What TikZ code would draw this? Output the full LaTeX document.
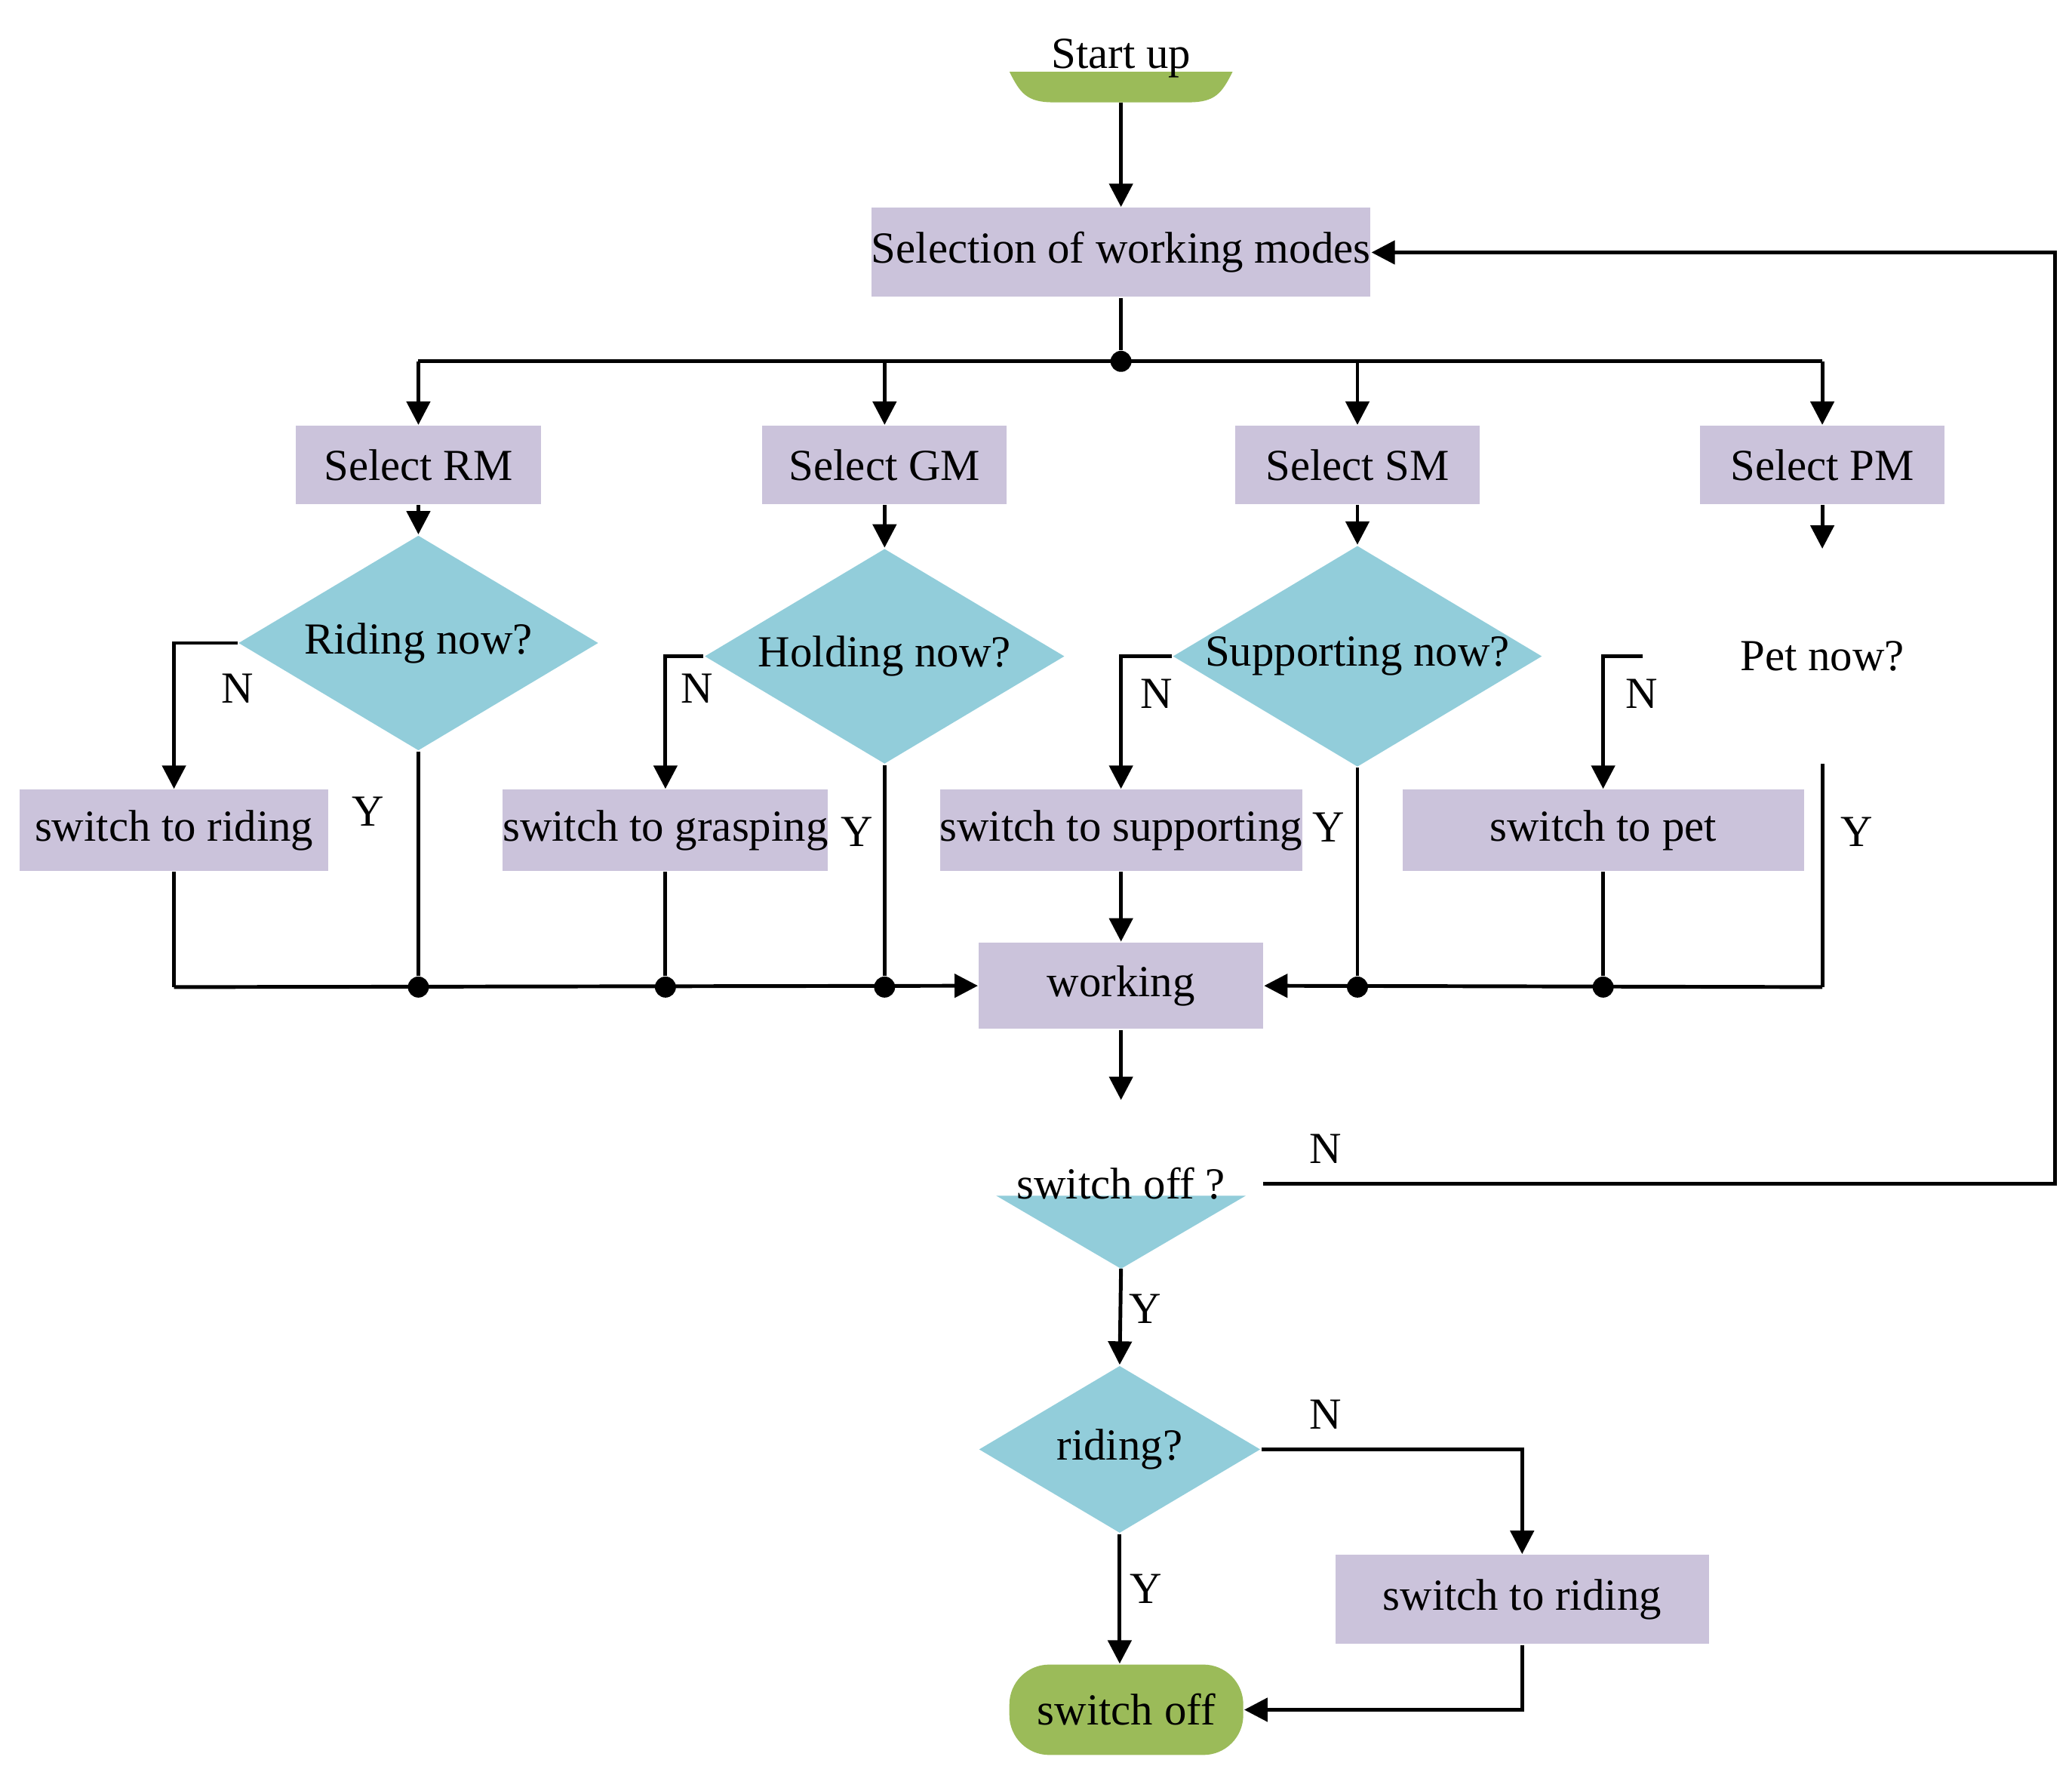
\documentclass[tikz,border=0pt]{standalone}
\usepackage{fontspec}
\setmainfont{Liberation Serif}
\usetikzlibrary{shapes.geometric,arrows.meta}
\definecolor{boxc}{HTML}{CBC3DB}
\definecolor{dia}{HTML}{92CDDA}
\definecolor{grn}{HTML}{9BBB59}
\begin{document}
\begin{tikzpicture}[x=0.01cm,y=-0.01cm,
  every node/.style={font=\fontsize{9.5}{11}\selectfont},
  box/.style={fill=boxc,draw=none,inner sep=0pt},
  dm/.style={diamond,fill=dia,draw=none,inner sep=0pt,aspect=1.67},
  ln/.style={line width=0.8pt},
  ar/.style={ln,-{Triangle[length=5pt,width=5pt]}},
  dot/.style={circle,fill=black,inner sep=0pt,minimum size=4.5pt}]
\useasboundingbox (0,0) rectangle (1560,1329);
% start
\fill[grn] (760,54) -- (928,54) .. controls (920,70) and (915,77) .. (895,77) -- (793,77) .. controls (773,77) and (768,70) .. (760,54) -- cycle;
\node (start) at (844,44) {Start up};
\coordinate (startb) at (844,77);
\node[box,minimum width=364\pgflinewidth*0+3.64cm,minimum height=0.67cm] (sel) at (844,190) {Selection of working modes};
\draw[ar] (startb) -- (sel);
\node[dot] (j) at (844,272) {};
\foreach \n/\x/\t in {rm/315/Select RM,gm/666/Select GM,sm/1022/Select SM,pm/1372/Select PM}{
  \node[box,minimum width=1.84cm,minimum height=0.59cm] (\n) at (\x,350) {\t};
  \coordinate (t\n) at (\x,272);
}
\draw[ln] (sel) -- (j);
\draw[ln] (trm) -- (tpm);
\foreach \n in {rm,gm,sm,pm}{\draw[ar] (t\n) -- (\n);}
% diamonds
\node[dm,minimum width=2.71cm,minimum height=1.62cm] (d1) at (315,484) {Riding now?};
\node[dm,minimum width=2.71cm,minimum height=1.62cm] (d2) at (666,494) {Holding now?};
\node[dm,minimum width=2.71cm,minimum height=1.62cm] (d3) at (1022,494) {Supporting now?};
\node[dm,fill=none,minimum width=2.71cm,minimum height=1.62cm] (d4) at (1372,494) {Pet now?};
\coordinate (d4w) at (1237,494);
\draw[ar] (rm.south) -- (d1.north);
\draw[ar] (gm) -- (d2);
\draw[ar] (sm) -- (d3);
\draw[ar] (pm.south) -- (1372,413);
% switch boxes
\node[box,minimum width=2.32cm,minimum height=0.61cm] (s1) at (131,625) {switch to riding};
\node[box,minimum width=2.32cm,minimum height=0.61cm] (s2) at (501,625) {switch to grasping};
\node[box,minimum width=2.47cm,minimum height=0.61cm] (s3) at (844,625) {switch to supporting};
\node[box,minimum width=3.02cm,minimum height=0.61cm] (s4) at (1207,625) {switch to pet};
\draw[ar] (d1.west) -| (s1);
\draw[ar] (d2.west) -| (s2);
\draw[ar] (d3.west) -| (s3);
\draw[ar] (d4w) -| (s4);
\node at (179,518) {N}; \node at (525,518) {N}; \node at (871,522) {N}; \node at (1236,522) {N};
\node at (277,611) {Y}; \node at (645,626) {Y}; \node at (1000,623) {Y}; \node at (1398,626) {Y};
% working
\node[box,minimum width=2.14cm,minimum height=0.65cm] (w) at (844,742) {working};
\node[dot] (p1) at (315,743) {};
\node[dot] (p2) at (501,743) {};
\node[dot] (p3) at (666,743) {};
\node[dot] (p4) at (1022,743) {};
\node[dot] (p5) at (1207,743) {};
\coordinate (p0) at (131,743);
\coordinate (p6) at (1372,743);
\draw[ln] (d1.south) -- (p1);
\draw[ln] (d2.south) -- (p3);
\draw[ln] (d3.south) -- (p4);
\draw[ln] (1372,575) -- (p6);
\draw[ln] (s1) -- (p0);
\draw[ln] (s2) -- (p2);
\draw[ln] (s4) -- (p5);
\draw[ar] (s3) -- (w);
\draw[ar] (p0) -- (w.west);
\draw[ar] (p6) -- (w.east);
\coordinate (wend) at (844,828);
\draw[ar] (w) -- (wend);
% switch off?
\fill[dia] (750,900) -- (938,900) -- (844,955) -- cycle;
\node (so) at (844,891) {switch off ?};
\coordinate (soa) at (844,955);
\coordinate (sor) at (951,891);
\draw[ar] (sor) -- (1547,891) -- (1547,190) -- (sel.east);
\node at (998,865) {N};
\node[dm,minimum width=2.12cm,minimum height=1.26cm] (rd) at (843,1091) {riding?};
\draw[ar] (soa) -- (rd.north);
\node at (862,985) {Y};
\node[box,minimum width=2.81cm,minimum height=0.67cm] (sr) at (1146,1204) {switch to riding};
\draw[ar] (rd.east) -| (sr);
\node at (998,1065) {N};
\node[fill=grn,rounded corners=0.3cm,minimum width=1.76cm,minimum height=0.68cm,inner sep=0pt] (off) at (848,1287) {switch off};
\draw[ar] (rd.south) -- (off.north -| rd.south);
\node at (863,1196) {Y};
\draw[ar] (sr.south) |- (off.east);
\end{tikzpicture}
\end{document}
